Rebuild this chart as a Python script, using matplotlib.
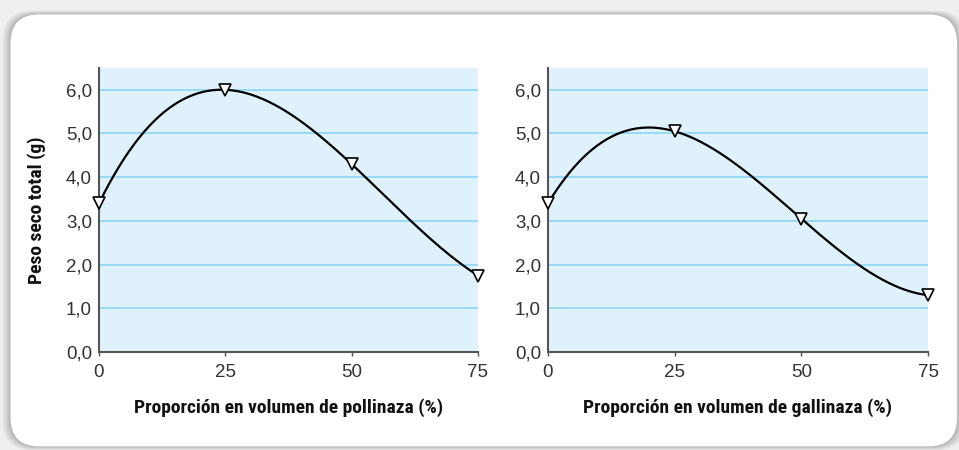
import numpy as np
import matplotlib
matplotlib.use("Agg")
import matplotlib.pyplot as plt
from matplotlib import font_manager
from matplotlib.patches import FancyBboxPatch
from matplotlib.ticker import FuncFormatter

# ── Data ──────────────────────────────────────────────────────────────────────
proporcion = [0, 25, 50, 75]
peso_pollinaza = [3.4, 6.0, 4.3, 1.75]
peso_gallinaza = [3.4, 5.05, 3.05, 1.3]

x_label_left = "Proporción en volumen de pollinaza (%)"
x_label_right = "Proporción en volumen de gallinaza (%)"
y_label = "Peso seco total (g)"
y_ticks = [0, 1, 2, 3, 4, 5, 6]
x_ticks = [0, 25, 50, 75]

# ── Style ─────────────────────────────────────────────────────────────────────
PANEL_BG = "#dff1fb"
GRID_COL = "#86d2f2"
SPINE_COL = "#555555"
TICK_COL = "#333333"

installed = {f.name for f in font_manager.fontManager.ttflist}
narrow = [n for n in ["Liberation Sans Narrow", "DejaVu Sans Condensed",
                      "Roboto Condensed", "Open Sans Condensed"] if n in installed]
LABEL_FONT = (narrow[0] if narrow else "Liberation Sans")
TICK_FONT = ["Liberation Sans", "DejaVu Sans"]

fig = plt.figure(figsize=(9.59, 4.5), dpi=100)
fig.patch.set_facecolor("#efefef")

# card with soft shadow
for i, a in enumerate([0.05, 0.05, 0.06, 0.08]):
    pad = (4 - i) * 0.002
    fig.patches.append(FancyBboxPatch(
        (0.011 - pad, 0.008 - pad), 0.987 + 2 * pad, 0.96 + 2 * pad,
        boxstyle="round,pad=0,rounding_size=0.03", transform=fig.transFigure,
        facecolor="#000000", edgecolor="none", alpha=a, zorder=-2, mutation_aspect=2.13))
fig.patches.append(FancyBboxPatch(
    (0.011, 0.008), 0.987, 0.96,
    boxstyle="round,pad=0,rounding_size=0.03", transform=fig.transFigure,
    facecolor="white", edgecolor="none", zorder=-1, mutation_aspect=2.13))


def cubic_curve(xs, ys):
    # smooth line through the four measured points
    coef = np.polyfit(xs, ys, len(xs) - 1)
    xx = np.linspace(min(xs), max(xs), 300)
    return xx, np.polyval(coef, xx)


def draw_panel(rect, values, xlabel, show_ylabel):
    ax = fig.add_axes(rect)
    ax.set_zorder(5)
    ax.set_facecolor(PANEL_BG)
    ax.set_xlim(0, 75)
    ax.set_ylim(0, 6.5)
    for y in y_ticks[1:]:
        ax.axhline(y, color=GRID_COL, linewidth=1.1, zorder=1)

    xx, yy = cubic_curve(proporcion, values)
    ax.plot(xx, yy, color="black", linewidth=1.6, zorder=3, clip_on=False)
    ax.plot(proporcion, values, linestyle="none", marker="v", markersize=9,
            markerfacecolor="white", markeredgecolor="black", markeredgewidth=1.2,
            zorder=4, clip_on=False)

    for s in ["top", "right"]:
        ax.spines[s].set_visible(False)
    for s in ["left", "bottom"]:
        ax.spines[s].set_color(SPINE_COL)
        ax.spines[s].set_linewidth(1.5)

    ax.set_xticks(x_ticks)
    ax.set_yticks(y_ticks)
    ax.yaxis.set_major_formatter(FuncFormatter(lambda v, p: f"{v:.1f}".replace(".", ",")))
    ax.tick_params(axis="y", length=0, pad=5, labelsize=13.5, labelcolor=TICK_COL)
    ax.tick_params(axis="x", length=3, width=1, color=SPINE_COL, direction="out",
                   pad=6, labelsize=13.5, labelcolor=TICK_COL)
    for lab in ax.get_xticklabels() + ax.get_yticklabels():
        lab.set_family(TICK_FONT)

    ax.set_xlabel(xlabel, family=LABEL_FONT, fontweight="bold", fontsize=14,
                  color="#111111", labelpad=12)
    if show_ylabel:
        ax.set_ylabel(y_label, family=LABEL_FONT, fontweight="bold", fontsize=14,
                      color="#111111", labelpad=14)
    return ax


draw_panel([0.1032, 0.2178, 0.3952, 0.6312], peso_pollinaza, x_label_left, True)
draw_panel([0.5714, 0.2178, 0.3963, 0.6312], peso_gallinaza, x_label_right, False)

fig.savefig("out.png", dpi=100, facecolor=fig.get_facecolor())
